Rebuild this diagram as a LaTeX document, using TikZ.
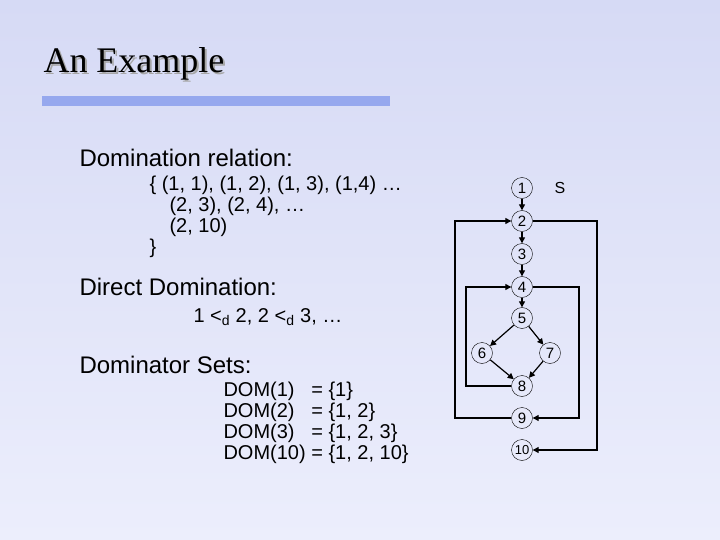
\documentclass[tikz,border=0pt]{standalone}
\usepackage{fontspec}
\setmainfont{Liberation Sans}
\newfontfamily\titlefont{Liberation Serif}
\usetikzlibrary{arrows.meta}
\definecolor{bgtop}{RGB}{214,218,245}
\definecolor{bgbot}{RGB}{236,238,252}
\definecolor{barblue}{RGB}{150,168,238}
\tikzset{
  vtx/.style={circle,draw,thin,inner sep=0pt,minimum size=21pt,font=\fontsize{15}{15}\selectfont},
  edge/.style={-{Triangle[length=6pt,width=6pt]},line width=1.2pt},
  body/.style={anchor=west,font=\fontsize{24}{28}\selectfont},
  sub/.style={anchor=north west,align=left,font=\fontsize{20}{21}\selectfont}
}
\begin{document}
\begin{tikzpicture}[x=1pt,y=-1pt]
\shade[top color=bgtop,bottom color=bgbot] (0,0) rectangle (720,540);
\useasboundingbox (0,0) rectangle (720,540);

% title and bar
\node[anchor=west,font=\titlefont\fontsize{36}{36}\selectfont] (title) at (40,65)
  {\tikz[baseline]{\node[gray!70,inner sep=0pt,anchor=base west] at (2pt,-2pt) {An Example};
   \node[inner sep=0pt,anchor=base west] at (0,0) {An Example};}};
\fill[barblue] (42,96) rectangle (390,106);

% text
\node[body] (dr) at (76,158) {Domination relation:};
\node[sub] (rel) at (146,172) {\{ (1, 1), (1, 2), (1, 3), (1,4) \dots\\
\quad(2, 3), (2, 4), \dots\\
\quad(2, 10)\\
\}};
\node[body] (dd) at (76,287) {Direct Domination:};
\node[sub] (ddx) at (190,305) {1 <\textsubscript{d} 2, 2 <\textsubscript{d} 3, \dots};
\node[body] (ds) at (76,365) {Dominator Sets:};
\node[sub,font=\fontsize{20}{21}\selectfont] (sets) at (220,378) {DOM(1)\ \ \ = \{1\}\\
DOM(2)\ \ \ = \{1, 2\}\\
DOM(3)\ \ \ = \{1, 2, 3\}\\
DOM(10) = \{1, 2, 10\}};

% graph
\node[vtx] (n1) at (522,188) {1};
\node[vtx] (n2) at (522,221) {2};
\node[vtx] (n3) at (522,254) {3};
\node[vtx] (n4) at (522,287) {4};
\node[vtx] (n5) at (522,318) {5};
\node[vtx] (n6) at (482,353) {6};
\node[vtx] (n7) at (550,353) {7};
\node[vtx] (n8) at (522,386) {8};
\node[vtx] (n9) at (522,418) {9};
\node[vtx,font=\fontsize{13}{13}\selectfont] (n10) at (522,450) {10};
\node[font=\fontsize{16}{16}\selectfont] (s) at (560,188) {S};

\draw[edge] (n1) -- (n2);
\draw[edge] (n2) -- (n3);
\draw[edge] (n3) -- (n4);
\draw[edge] (n4) -- (n5);
\draw[edge] (n5) -- (n6);
\draw[edge] (n5) -- (n7);
\draw[edge] (n6) -- (n8);
\draw[edge] (n7) -- (n8);
\draw[edge] (n8.west) -| (466,287) -- (n4.west);
\draw[edge] (n4.east) -| (579,418) -- (n9.east);
\draw[edge] (n2.east) -| (597,450) -- (n10.east);
\draw[edge] (n9.west) -| (455,221) -- (n2.west);
\end{tikzpicture}
\end{document}
